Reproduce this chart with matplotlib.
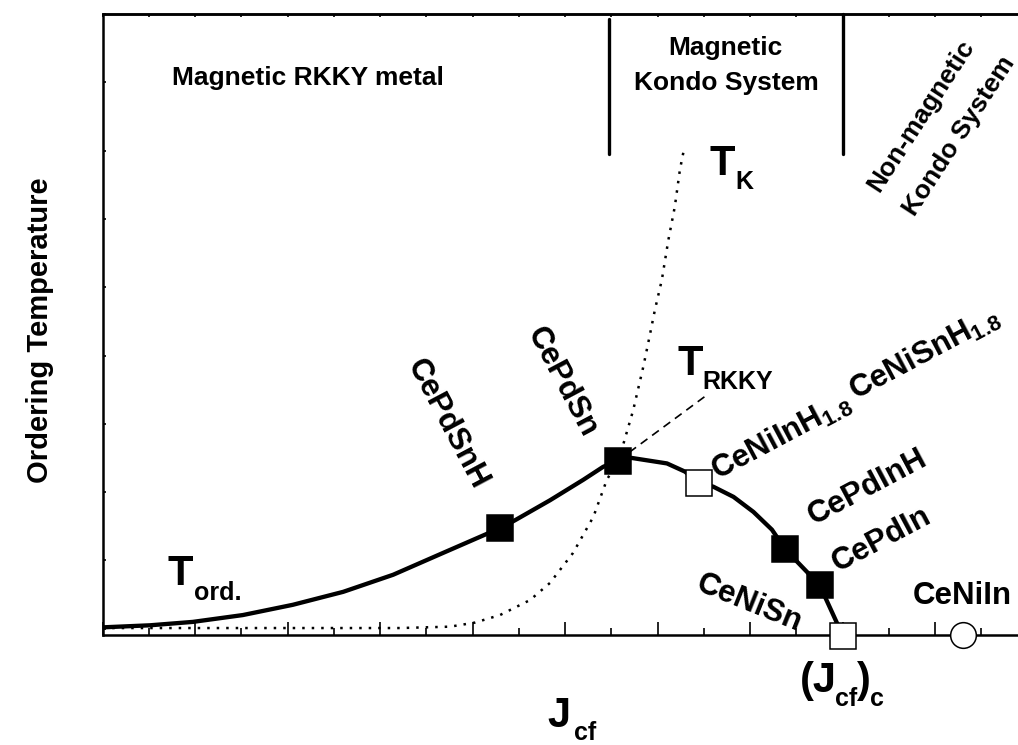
import matplotlib
matplotlib.use("Agg")
import matplotlib.pyplot as plt

plt.rcParams['font.family'] = ['Liberation Sans', 'DejaVu Sans']
plt.rcParams['font.weight'] = 'bold'
plt.rcParams['mathtext.fontset'] = 'custom'
plt.rcParams['mathtext.rm'] = 'Liberation Sans:bold'
plt.rcParams['mathtext.it'] = 'Liberation Sans:bold'
plt.rcParams['mathtext.bf'] = 'Liberation Sans:bold'

# schematic curves (arbitrary units)
tord_x = [0, 1.02, 1.95, 3.03, 4.11, 5.20, 6.28, 7.36, 8.31, 8.60, 8.92, 9.67, 10.39,
          10.82, 11.14, 11.44, 12.20, 12.59, 12.90, 13.20, 13.64, 14.07, 14.47, 14.76,
          15.50, 16.00]
tord_y = [0.02, 0.05, 0.10, 0.20, 0.35, 0.54, 0.79, 1.11, 1.39, 1.47, 1.59, 1.88, 2.18,
          2.37, 2.46, 2.50, 2.42, 2.30, 2.13, 2.08, 1.93, 1.71, 1.45, 1.16,
          0.64, -0.10]

tk_x = [0, 6.43, 7.51, 8.05, 8.59, 9.24, 9.67, 10.17, 10.61, 10.90, 11.14, 11.26, 11.47,
        11.69, 11.83, 11.94, 12.09, 12.23, 12.37, 12.48, 12.58]
tk_y = [0.01, 0.01, 0.03, 0.09, 0.20, 0.42, 0.67, 1.11, 1.64, 2.18, 2.46, 2.71, 3.20,
        3.84, 4.30, 4.67, 5.11, 5.69, 6.18, 6.72, 7.06]

trkky_x = [11.14, 13.02]
trkky_y = [2.46, 3.40]

# compounds
filled_x = [8.60, 11.14, 14.76, 15.50]   # CePdSnH, CePdSn, CePdInH, CePdIn
filled_y = [1.47, 2.46, 1.16, 0.64]
open_x = [12.90, 16.00]                  # CeNiInH1.8 / CeNiSnH1.8, CeNiSn (Jcf)c
open_y = [2.13, -0.10]
circle_x = [18.61]                       # CeNiIn
circle_y = [-0.09]

# region boundaries
bound_x = [10.95, 16.00]
bound_top = [8.92, 9.0]
bound_bottom = 6.95

W, H = 1018, 745
fig = plt.figure(figsize=(W / 100, H / 100), dpi=100)
ax = fig.add_axes([102.7 / W, 1 - 635 / H, (W - 102.7) / W, (635 - 14) / H])
ax.set_xlim(0, 19.79)
ax.set_ylim(-0.092, 9.0)

for s in ['left', 'bottom', 'top']:
    ax.spines[s].set_linewidth(1.8)
ax.spines['right'].set_visible(False)

ax.set_xticks(range(0, 20, 2))
ax.set_xticks(range(1, 20, 2), minor=True)
ax.set_yticks(range(0, 10))
ax.tick_params(axis='x', which='major', direction='in', length=9.5, width=1.2,
               top=False, labelbottom=False)
ax.tick_params(axis='x', which='minor', direction='in', length=5, width=1.2,
               top=False)
ax.tick_params(axis='y', direction='in', length=2.5, width=1.2, labelleft=False)

sec = ax.secondary_xaxis('top')
sec.set_xticks(range(0, 20))
sec.tick_params(direction='in', length=2.5, width=1.2, labeltop=False)
sec.spines['top'].set_linewidth(1.8)

# curves
ax.plot(tk_x, tk_y, color='black', lw=1.8, linestyle=(0, (1, 2.8)))
ax.plot(trkky_x, trkky_y, color='black', lw=1.2, linestyle=(0, (5, 3.5)))
ax.plot(tord_x, tord_y, color='black', lw=3.1, solid_joinstyle='round')

for bx, bt in zip(bound_x, bound_top):
    ax.plot([bx, bx], [bound_bottom, bt], color='black', lw=2.4,
            solid_capstyle='round', clip_on=False)

ax.plot(filled_x, filled_y, 's', ms=19, mfc='black', mec='black', mew=1.1,
        clip_on=False, zorder=5)
ax.plot(open_x, open_y, 's', ms=19, mfc='white', mec='black', mew=1.1,
        clip_on=False, zorder=5)
ax.plot(circle_x, circle_y, 'o', ms=18.5, mfc='white', mec='black', mew=1.1,
        clip_on=False, zorder=5)


def txt(x, y, s, size=19, **kw):
    fig.text(x / W, 1 - y / H, s, fontsize=size, fontweight='bold', **kw)


# region names
txt(172, 85, 'Magnetic RKKY metal', ha='left', va='baseline')
txt(725, 55, 'Magnetic', ha='center', va='baseline')
txt(726, 90, 'Kondo System', ha='center', va='baseline')
txt(921, 116, 'Non-magnetic', ha='center', va='center', rotation=57,
    rotation_mode='anchor')
txt(959, 136, 'Kondo System', ha='center', va='center', rotation=57,
    rotation_mode='anchor')

# compound names
cs = 22.5
txt(447, 424, 'CePdSnH', size=cs, ha='center', va='center', rotation=-62,
    rotation_mode='anchor')
txt(562, 382, 'CePdSn', size=cs, ha='center', va='center', rotation=-62,
    rotation_mode='anchor')
txt(781, 437, r'CeNiInH$_{1.8}$', size=cs, ha='center', va='center', rotation=28,
    rotation_mode='anchor')
txt(925, 354, r'CeNiSnH$_{1.8}$', size=cs, ha='center', va='center', rotation=28,
    rotation_mode='anchor')
txt(868, 487, 'CePdInH', size=cs, ha='center', va='center', rotation=28,
    rotation_mode='anchor')
txt(882, 540, 'CePdIn', size=cs, ha='center', va='center', rotation=28,
    rotation_mode='anchor')
txt(749, 603, 'CeNiSn', size=cs, ha='center', va='center', rotation=-22,
    rotation_mode='anchor')
txt(962, 596, 'CeNiIn', size=cs, ha='center', va='center')

# curve names with subscripts
txt(167, 585, 'T', size=30, ha='left', va='baseline')
txt(194, 600, 'ord.', size=18, ha='left', va='baseline')
txt(710, 175, 'T', size=30, ha='left', va='baseline')
txt(735, 189, 'K', size=18, ha='left', va='baseline')
txt(677, 375, 'T', size=30, ha='left', va='baseline')
txt(702, 389, 'RKKY', size=18, ha='left', va='baseline')

# (Jcf)c
txt(800, 692, '(J', size=30, ha='left', va='baseline')
txt(835, 706, 'cf', size=18, ha='left', va='baseline')
txt(857, 692, ')', size=30, ha='left', va='baseline')
txt(870, 706, 'c', size=18, ha='left', va='baseline')

# axis titles
txt(547, 727, 'J', size=30, ha='left', va='baseline')
txt(574, 740, 'cf', size=18, ha='left', va='baseline')
txt(48, 330, 'Ordering Temperature', size=21, ha='center', va='baseline',
    rotation=90, rotation_mode='anchor')

fig.savefig('out.png', dpi=100)
